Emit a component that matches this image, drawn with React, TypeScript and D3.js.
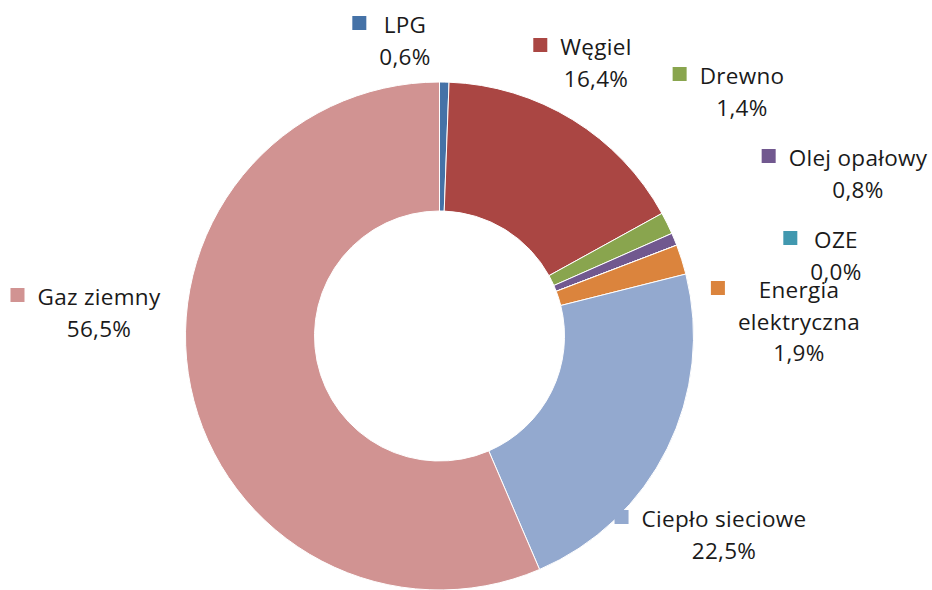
import { useEffect, useRef } from 'react';
import * as d3 from 'd3';

// Struktura paliw / nośników energii (udział %)
const categories = ['LPG', 'Węgiel', 'Drewno', 'Olej opałowy', 'OZE', 'Energia elektryczna', 'Ciepło sieciowe', 'Gaz ziemny'];
const shares = [0.6, 16.4, 1.4, 0.8, 0.0, 1.9, 22.5, 56.5];
const labelLines = [['LPG'], ['Węgiel'], ['Drewno'], ['Olej opałowy'], ['OZE'], ['Energia', 'elektryczna'], ['Ciepło sieciowe'], ['Gaz ziemny']];
const colors = ['#4572A7', '#AA4643', '#89A54E', '#71588F', '#4198AF', '#DB843D', '#93A9CF', '#D19392'];

// label anchors (text centre x, first baseline y) - layout only
const labelAnchors = [
  [405, 33], [596, 55], [742, 84], [858, 166],
  [836, 248], [799, 298], [724, 527], [99, 305]
];

const W = 932;
const H = 590;

const App = () => {
  const svgRef = useRef(null);

  useEffect(() => {
    const svg = d3.select(svgRef.current);
    svg.selectAll('*').remove();

    const cx = 439.5;
    const cy = 336;
    const outer = 254;
    const inner = 125;

    const pie = d3.pie<number>().sort(null).value(d => d);
    const arcs = pie(shares);
    const arc = d3.arc<any>().innerRadius(inner).outerRadius(outer);

    const g = svg.append('g').attr('transform', `translate(${cx},${cy})`);

    g.selectAll('path')
      .data(arcs)
      .enter()
      .append('path')
      .attr('d', arc)
      .attr('fill', (d, i) => colors[i])
      .attr('stroke', '#fff')
      .attr('stroke-width', 1);

    // Labels
    const lineH = 31.5;
    const fmt = (v: number) => v.toFixed(1).replace('.', ',') + '%';

    categories.forEach((c, i) => {
      const [x, y] = labelAnchors[i];
      const lines = [...labelLines[i], fmt(shares[i])];
      const lg = svg.append('g');
      let maxW = 0;
      lines.forEach((t, j) => {
        const txt = lg.append('text')
          .attr('x', x)
          .attr('y', y + j * lineH)
          .attr('text-anchor', 'middle')
          .style('font-family', '"Open Sans", Lato, sans-serif')
          .style('font-size', '22.5px')
          .style('letter-spacing', '0.3px')
          .style('fill', '#1a1a1a')
          .text(t);
        const node = txt.node() as SVGTextElement;
        maxW = Math.max(maxW, node.getComputedTextLength());
      });
      const keySize = 14;
      lg.insert('rect', 'text')
        .attr('x', x - maxW / 2 - 13 - keySize)
        .attr('y', y - 10 - keySize / 2)
        .attr('width', keySize)
        .attr('height', keySize)
        .attr('fill', colors[i]);
    });
  }, []);

  return (
    <svg
      ref={svgRef}
      width={W}
      height={H}
      style={{ position: 'absolute', left: 0, top: 0, background: '#fff' }}
    />
  );
};

export default App;
